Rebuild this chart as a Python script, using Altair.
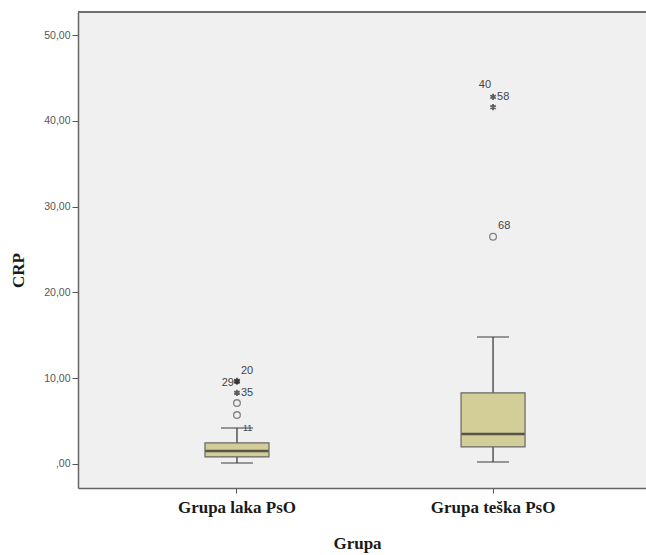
import altair as alt
import pandas as pd

groups = ["Grupa laka PsO", "Grupa teška PsO"]
whisker_low = [0.12, 0.23]
q1 = [0.82, 2.0]
median = [1.5, 3.5]
q3 = [2.45, 8.3]
whisker_high = [4.2, 14.8]

# outliers
out_group = ["Grupa laka PsO", "Grupa laka PsO", "Grupa teška PsO"]
out_value = [5.7, 7.1, 26.5]
out_label = ["", "", "68"]

# extremes (stars)
ext_group = ["Grupa laka PsO", "Grupa laka PsO", "Grupa laka PsO",
             "Grupa teška PsO", "Grupa teška PsO"]
ext_value = [8.3, 9.6, 9.7, 42.8, 41.6]
ext_label = ["35", "29", "20", "58", ""]
ext_label_left = ["", "29", "", "40", ""]

boxes = pd.DataFrame({"g": groups, "lo": whisker_low, "q1": q1, "med": median,
                      "q3": q3, "hi": whisker_high})
outs = pd.DataFrame({"g": out_group, "v": out_value, "lab": out_label})
exts = pd.DataFrame({"g": ext_group, "v": ext_value, "lab": ext_label,
                     "labl": ext_label_left})

serif = "Liberation Serif"
sans = "Liberation Sans"
frame = "#666666"
W = 568

xscale = alt.Scale(domain=groups, paddingInner=0, paddingOuter=0.109, align=0.554)
yscale = alt.Scale(domain=[-2.8, 52.7], nice=False, zero=False)

x = alt.X("g:N", scale=xscale, sort=groups, title="Grupa",
          axis=alt.Axis(labelAngle=0, labelFont=serif, labelFontSize=17,
                        labelFontWeight="bold", labelColor="#1a1a1a",
                        labelPadding=6, tickSize=5, tickColor="#555",
                        domain=True, domainColor=frame, domainWidth=1.5,
                        titleFont=serif, titleFontSize=17,
                        titleFontWeight="bold", titleColor="#1a1a1a",
                        titleX=279, titleY=55, titleBaseline="middle"))
y = alt.Y("lo:Q", scale=yscale, title="CRP",
          axis=alt.Axis(values=[0, 10, 20, 30, 40, 50],
                        labelExpr="datum.value == 0 ? ',00' : replace(format(datum.value, '.2f'), '.', ',')",
                        labelFont=sans, labelFontSize=10.5, labelColor="#555",
                        tickSize=6, tickColor="#555", grid=False,
                        domain=True, domainColor=frame, domainWidth=1.5,
                        titleFont=serif, titleFontSize=17, titleFontWeight="bold",
                        titleColor="#1a1a1a", titleX=-60, titleY=258,
                        titleBaseline="middle", titleAngle=-90))

base = alt.Chart(boxes)

whisk = base.mark_rule(color="#555", strokeWidth=1.5).encode(x=x, y=y, y2="hi:Q")
caps_lo = base.mark_tick(color="#444", size=32, thickness=1.5).encode(x="g:N", y="lo:Q")
caps_hi = base.mark_tick(color="#444", size=32, thickness=1.5).encode(x="g:N", y="hi:Q")
box = base.mark_bar(size=64, fill="#D3CE97", stroke="#666", strokeWidth=1.2).encode(
    x="g:N", y="q1:Q", y2="q3:Q")
med = base.mark_tick(color="#222", size=63, thickness=2.5).encode(x="g:N", y="med:Q")

top_border = base.mark_rule(color=frame, strokeWidth=1.5).encode(
    x=alt.value(0), x2=alt.value(W), y=alt.value(0), y2=alt.value(0))

circ = alt.Chart(outs).mark_point(shape="circle", size=45, filled=False,
                                  color="#555", strokeWidth=1.3).encode(x="g:N", y="v:Q")
circ_lab = alt.Chart(outs).mark_text(align="left", baseline="middle", dx=5, dy=-11,
                                     font=sans, fontSize=11, color="#444").encode(
    x="g:N", y="v:Q", text="lab:N")

star_path = "M0,-1L0,1M-0.87,-0.5L0.87,0.5M-0.87,0.5L0.87,-0.5"
stars = alt.Chart(exts).mark_point(shape=star_path, size=40, filled=False,
                                   color="#222", strokeWidth=1.8).encode(x="g:N", y="v:Q")
right_main = alt.Chart(exts).transform_filter(
    "datum.lab == '35' || datum.lab == '58'").mark_text(
    align="left", baseline="middle", dx=4, font=sans, fontSize=11, color="#444").encode(
    x="g:N", y="v:Q", text="lab:N")
right_up = alt.Chart(exts).transform_filter("datum.lab == '20'").mark_text(
    align="left", baseline="middle", dx=4, dy=-10, font=sans, fontSize=11, color="#444").encode(
    x="g:N", y="v:Q", text="lab:N")
left_29 = alt.Chart(exts).transform_filter("datum.labl == '29'").mark_text(
    align="right", baseline="middle", dx=-3, dy=1, font=sans, fontSize=11, color="#444").encode(
    x="g:N", y="v:Q", text="labl:N")
left_40 = alt.Chart(exts).transform_filter("datum.labl == '40'").mark_text(
    align="right", baseline="middle", dx=-2, dy=-12, font=sans, fontSize=11, color="#444").encode(
    x="g:N", y="v:Q", text="labl:N")

near_label = alt.Chart(boxes).transform_filter("datum.g == 'Grupa laka PsO'").transform_calculate(
    t="'11'").mark_text(align="left", baseline="middle", dx=6, font=sans, fontSize=9,
                        color="#444").encode(x="g:N", y="hi:Q", text="t:N")

chart = alt.layer(whisk, caps_lo, caps_hi, box, med, top_border, circ, circ_lab, stars,
                  right_main, right_up, left_29, left_40, near_label).properties(
    width=W, height=476,
    autosize=alt.AutoSizeParams(type="none"),
    padding={"left": 78, "top": 12, "right": 0, "bottom": 67},
    background="white",
).configure_view(fill="#F0F0F0", stroke="transparent", strokeWidth=0)

chart.save("out.html", embed_options={"renderer": "svg", "actions": False})
